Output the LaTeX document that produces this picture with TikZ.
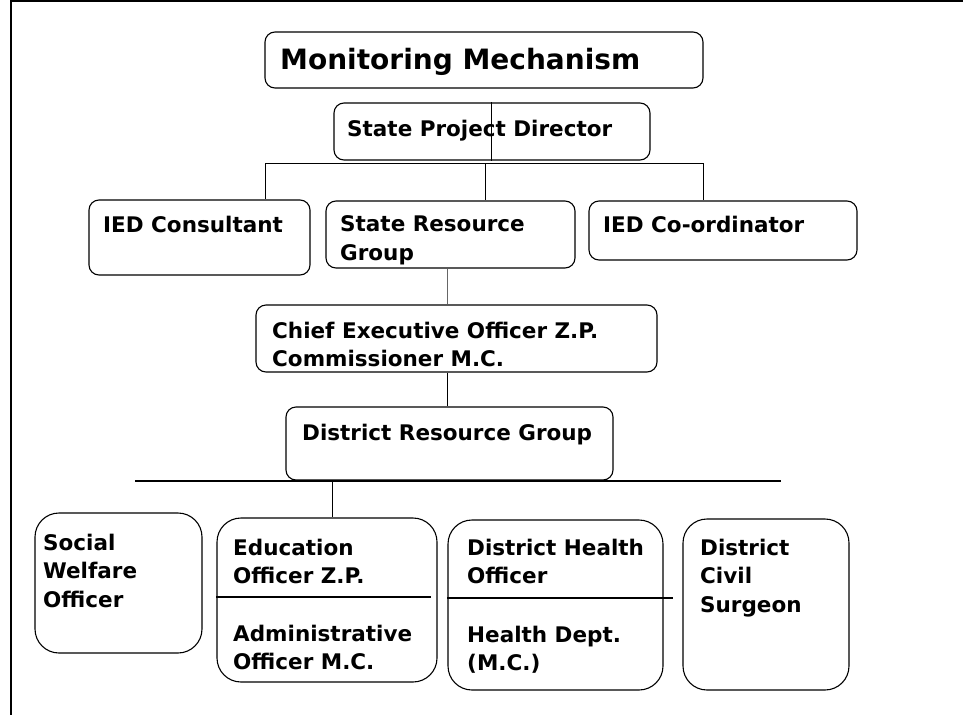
\documentclass[tikz,border=0pt]{standalone}
\usepackage{fontspec}
\setmainfont{DejaVu Sans}
\newcommand\bodyf{\fontsize{21.5}{28.5}\selectfont\bfseries}
\newcommand\titlef{\fontsize{28}{34}\selectfont\bfseries}
\begin{document}
\begin{tikzpicture}[x=1pt,y=-1pt,
  box/.style={draw=black, line width=1.1pt, rounded corners=10pt, inner sep=0pt},
  bigbox/.style={draw=black, line width=1.1pt, rounded corners=24pt, inner sep=0pt},
  txt/.style={anchor=north west, inner sep=0pt, align=left, font=\bodyf, text=black},
  conn/.style={draw=black, line width=1pt},
  divider/.style={draw=black, line width=1.4pt}]
\useasboundingbox (0,0) rectangle (963,715);
\fill[white] (0,0) rectangle (963,715);
% frame
\coordinate (f0) at (11,1);
\coordinate (f1) at (963,1);
\coordinate (f2) at (11,715);
\draw[line width=1.6pt] (f1) -- (f0) -- (f2);

% boxes
\node[box, minimum width=438pt, minimum height=56pt] (mm) at (484,60) {};
\node[box, minimum width=316pt, minimum height=57pt] (spd) at (492,131.5) {};
\node[box, minimum width=221pt, minimum height=75pt] (cons) at (199.5,237.5) {};
\node[box, minimum width=249pt, minimum height=67pt] (srg) at (450.5,234.5) {};
\node[box, minimum width=268pt, minimum height=59pt] (ico) at (723,230.5) {};
\node[box, minimum width=401pt, minimum height=67pt] (ceo) at (456.5,338.5) {};
\node[box, minimum width=327pt, minimum height=73pt] (drg) at (449.5,443.5) {};
\node[bigbox, minimum width=167pt, minimum height=140pt] (swo) at (118.5,583) {};
\node[bigbox, minimum width=220pt, minimum height=164pt] (edu) at (327,600) {};
\node[bigbox, minimum width=215pt, minimum height=170pt] (dho) at (555.5,605) {};
\node[bigbox, minimum width=166pt, minimum height=171pt] (dcs) at (766,604.5) {};

% texts
\node[txt, font=\titlef] (tmm) at (280,48) {Monitoring Mechanism};
\node[txt] (tspd) at (347,120) {State Project Director};
\node[txt] (tcons) at (103,215.5) {IED Consultant};
\node[txt] (tsrg) at (340,215.5) {State Resource\\Group};
\node[txt] (tico) at (603,215.5) {IED Co-ordinator};
\node[txt] (tceo) at (272,321.5) {Chief Executive Officer Z.P.\\Commissioner M.C.};
\node[txt] (tdrg) at (302,423.5) {District Resource Group};
\node[txt] (tswo) at (43,533.5) {Social\\Welfare\\Officer};
\node[txt] (tedu1) at (233,538.5) {Education\\Officer Z.P.};
\node[txt] (tedu2) at (233,624.5) {Administrative\\Officer M.C.};
\node[txt] (tdho1) at (467,538.5) {District Health\\Officer};
\node[txt] (tdho2) at (467,625.5) {Health Dept.\\(M.C.)};
\node[txt] (tdcs) at (700,538.5) {District\\Civil\\Surgeon};

% dividers
\draw[divider] ([yshift=3pt]edu.west) -- ([xshift=-7pt,yshift=3pt]edu.east);
\draw[divider] ([yshift=7pt]dho.west) -- ([xshift=9pt,yshift=7pt]dho.east);

% connectors
\coordinate (s1) at (491,0);
\draw[conn] (s1 |- spd.north) -- (s1 |- spd.south);
\coordinate (j1) at (265,163);
\coordinate (j2) at (485,163);
\coordinate (j3) at (703,163);
\draw[conn] (j1) -- (j3);
\draw[conn] (j1) -- (j1 |- cons.north);
\draw[conn] (j2) -- (j2 |- srg.north);
\draw[conn] (j3) -- (j3 |- ico.north);
\coordinate (c1) at (447,0);
\draw[conn, line width=0.5pt, black!60] (c1 |- srg.south) -- (c1 |- ceo.north);
\draw[conn, line width=0.7pt] (c1 |- ceo.south) -- (c1 |- drg.north);
\coordinate (b1) at (135,481);
\coordinate (b2) at (781,481);
\coordinate (b3) at (332,481);
\draw[conn, line width=1.5pt] (b1) -- (b2);
\draw[conn, line width=0.7pt] (b3) -- (b3 |- edu.north);
\end{tikzpicture}
\end{document}
